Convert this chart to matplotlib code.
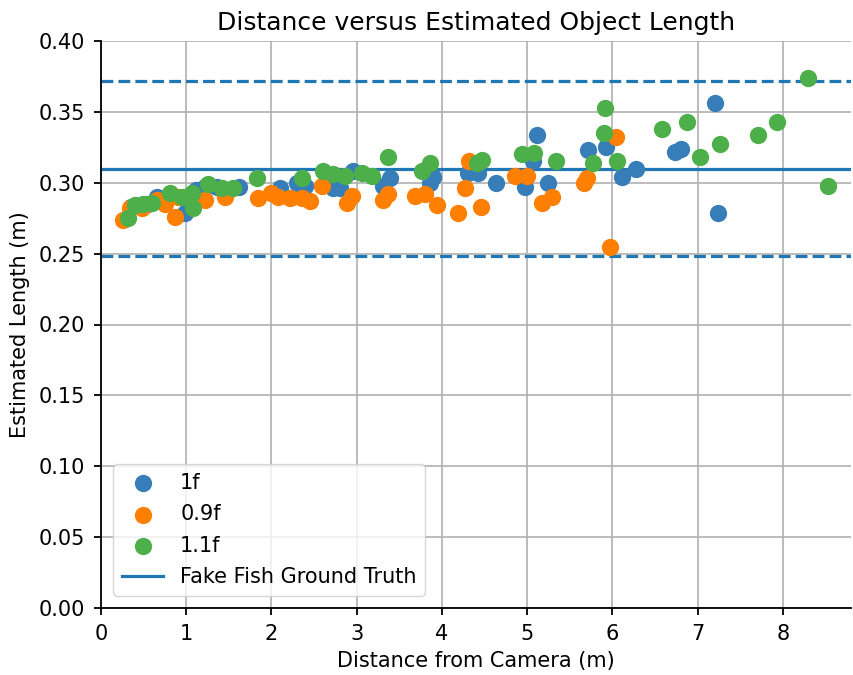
import matplotlib
matplotlib.use("Agg")
import matplotlib.pyplot as plt

# 1f series
x_1f = [0.35, 0.55, 0.66, 0.80, 0.99, 1.12, 1.22, 1.36, 1.62, 2.10, 2.30, 2.39, 2.72, 2.80,
        2.96, 3.31, 3.39, 3.86, 3.90, 4.31, 4.42, 4.63, 4.97, 5.07, 5.11, 5.24, 5.72, 5.92,
        6.11, 6.28, 6.73, 6.81, 7.20, 7.24]
y_1f = [0.283, 0.285, 0.290, 0.290, 0.279, 0.295, 0.297, 0.297, 0.297, 0.296, 0.300, 0.298,
        0.296, 0.296, 0.308, 0.298, 0.303, 0.300, 0.304, 0.307, 0.307, 0.300, 0.297, 0.315,
        0.334, 0.300, 0.323, 0.325, 0.304, 0.310, 0.322, 0.324, 0.356, 0.279]

# 0.9f series
x_09f = [0.26, 0.34, 0.48, 0.66, 0.75, 0.87, 0.90, 1.22, 1.45, 1.84, 2.00, 2.08, 2.22, 2.36,
         2.45, 2.59, 2.89, 2.94, 3.31, 3.37, 3.68, 3.80, 3.94, 4.19, 4.27, 4.32, 4.46, 4.86,
         5.00, 5.17, 5.29, 5.67, 5.70, 5.97, 6.04]
y_09f = [0.274, 0.282, 0.282, 0.288, 0.285, 0.276, 0.290, 0.288, 0.290, 0.289, 0.293, 0.290,
         0.289, 0.289, 0.287, 0.298, 0.286, 0.291, 0.288, 0.292, 0.291, 0.292, 0.284, 0.279,
         0.296, 0.315, 0.283, 0.305, 0.305, 0.286, 0.290, 0.300, 0.303, 0.255, 0.332]

# 1.1f series
x_11f = [0.32, 0.40, 0.49, 0.60, 0.81, 0.95, 1.07, 1.08, 1.26, 1.42, 1.55, 1.83, 2.36, 2.60,
         2.72, 2.86, 3.06, 3.18, 3.37, 3.77, 3.86, 4.41, 4.47, 4.94, 5.08, 5.34, 5.77, 5.90,
         5.91, 6.05, 6.58, 6.87, 7.03, 7.26, 7.71, 7.93, 8.29, 8.53]
y_11f = [0.275, 0.284, 0.285, 0.286, 0.293, 0.290, 0.293, 0.282, 0.299, 0.296, 0.296, 0.303,
         0.303, 0.308, 0.306, 0.305, 0.307, 0.305, 0.318, 0.308, 0.314, 0.314, 0.316, 0.320,
         0.321, 0.315, 0.314, 0.335, 0.353, 0.315, 0.338, 0.343, 0.318, 0.327, 0.334, 0.343,
         0.374, 0.298]

ground_truth = 0.31
tolerance = 0.2
x_ticks = [0, 1, 2, 3, 4, 5, 6, 7, 8]
y_ticks = [0.00, 0.05, 0.10, 0.15, 0.20, 0.25, 0.30, 0.35, 0.40]

plt.rcParams['font.family'] = ['DejaVu Sans']
plt.rcParams['font.size'] = 15

fig = plt.figure(figsize=(8.54, 6.75), dpi=100)
ax = fig.add_axes([101/854, 67/675, 750/854, 567/675])

ms = 155
ax.scatter(x_1f, y_1f, s=ms, color='#377eb8', label='1f', zorder=3, linewidths=0)
ax.scatter(x_09f, y_09f, s=ms, color='#ff7f00', label='0.9f', zorder=3, linewidths=0)
ax.scatter(x_11f, y_11f, s=ms, color='#4daf4a', label='1.1f', zorder=3, linewidths=0)

ax.axhline(ground_truth, color='#1f77b4', lw=2.3, label='Fake Fish Ground Truth', zorder=2)
ax.axhline(ground_truth * (1 + tolerance), color='#1f77b4', lw=2.3, ls='--', zorder=2)
ax.axhline(ground_truth * (1 - tolerance), color='#1f77b4', lw=2.3, ls='--', zorder=2)

ax.set_xlim(0, 8.8)
ax.set_ylim(0, 0.40)
ax.set_xticks(x_ticks)
ax.set_yticks(y_ticks)
ax.set_yticklabels([f"{v:.2f}" for v in y_ticks])
ax.tick_params(labelsize=15, length=4.7, width=1.3, pad=7)
ax.grid(True, color='#b0b0b0', lw=1.2, zorder=0)
ax.set_axisbelow(True)
ax.spines['top'].set_visible(False)
ax.spines['right'].set_visible(False)
ax.spines['left'].set_linewidth(1.3)
ax.spines['bottom'].set_linewidth(1.3)

ax.set_title('Distance versus Estimated Object Length', fontsize=18, pad=8)
ax.set_xlabel('Distance from Camera (m)', fontsize=15, labelpad=5)
ax.set_ylabel('Estimated Length (m)', fontsize=15, labelpad=6)
ax.legend(loc='lower left', fontsize=15, labelspacing=0.55, borderaxespad=0.6)

fig.savefig('out.png', dpi=100)
